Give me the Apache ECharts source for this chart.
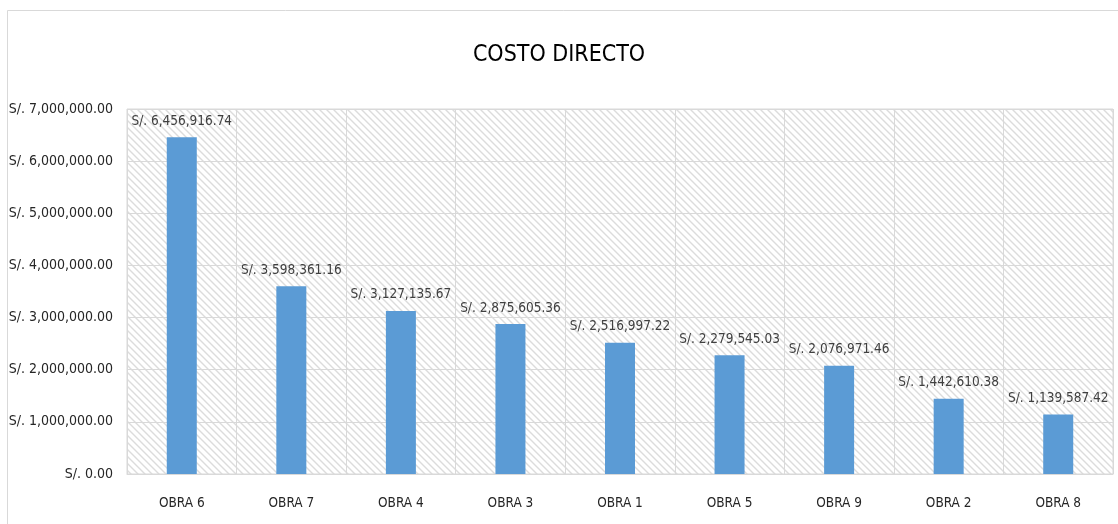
<!DOCTYPE html>
<html>
<head>
<meta charset="utf-8">
<script src="https://cdn.jsdelivr.net/npm/echarts@6/dist/echarts.min.js"></script>
<style>
html,body{margin:0;padding:0;background:#fff;}
#chart{width:1118px;height:524px;}
</style>
</head>
<body>
<div id="chart"></div>
<script>
const categories = ['OBRA 6','OBRA 7','OBRA 4','OBRA 3','OBRA 1','OBRA 5','OBRA 9','OBRA 2','OBRA 8'];
const costs = [6456916.74, 3598361.16, 3127135.67, 2875605.36, 2516997.22, 2279545.03, 2076971.46, 1442610.38, 1139587.42];
const yTicks = [0, 1000000, 2000000, 3000000, 4000000, 5000000, 6000000, 7000000];
const titleText = 'COSTO DIRECTO';

const FONT = "'DejaVu Sans Condensed','Liberation Sans Narrow',sans-serif";

function money(v){
  return 'S/. ' + Number(v).toLocaleString('en-US',{minimumFractionDigits:2,maximumFractionDigits:2});
}

// hatch pattern
const s = 7;
const pc = document.createElement('canvas');
pc.width = s; pc.height = s;
const ctx = pc.getContext('2d');
ctx.fillStyle = '#ffffff';
ctx.fillRect(0,0,s,s);
ctx.strokeStyle = '#dcdcdc';
ctx.lineWidth = 1.4;
ctx.beginPath();
ctx.moveTo(-1,-1); ctx.lineTo(s+1,s+1);
ctx.moveTo(-1,s-1); ctx.lineTo(1,s+1);
ctx.moveTo(s-1,-1); ctx.lineTo(s+1,1);
ctx.stroke();

const chart = echarts.init(document.getElementById('chart'), null, {renderer:'canvas'});
chart.setOption({
  animation:false,
  backgroundColor:'#ffffff',
  title:{
    text:titleText, left:'center', top:39,
    textStyle:{fontFamily:FONT, fontSize:23, fontWeight:'normal', color:'#000'}
  },
  graphic:[{
    type:'rect', silent:true, z:-1,
    shape:{x:7.5,y:10.5,width:1200,height:600},
    style:{fill:null, stroke:'#d9d9d9', lineWidth:1}
  }],
  grid:{
    left:127, right:5, top:109, bottom:50,
    outerBoundsMode:'none',
    containLabel:false,
    show:true,
    backgroundColor:{image:pc, repeat:'repeat'},
    borderColor:'#d9d9d9', borderWidth:1
  },
  xAxis:{
    type:'category', data:categories,
    axisLine:{lineStyle:{color:'#d9d9d9', width:1}},
    axisTick:{show:false},
    splitLine:{show:true, interval:0, lineStyle:{color:'#d9d9d9', width:1}},
    axisLabel:{fontFamily:FONT, fontSize:13.5, color:'#262626', margin:22, interval:0}
  },
  yAxis:{
    type:'value', min:yTicks[0], max:yTicks[yTicks.length-1], interval:yTicks[1]-yTicks[0],
    axisLine:{show:false}, axisTick:{show:false},
    splitLine:{lineStyle:{color:'#d9d9d9', width:1}},
    axisLabel:{fontFamily:FONT, fontSize:14, color:'#262626', margin:14, formatter:money}
  },
  series:[{
    type:'bar', data:costs, barWidth:30,
    itemStyle:{color:'#5b9bd5'},
    label:{show:true, position:'top', distance:9, fontFamily:FONT, fontSize:13.5, color:'#404040', formatter:p=>money(p.value)}
  }]
});
</script>
</body>
</html>
